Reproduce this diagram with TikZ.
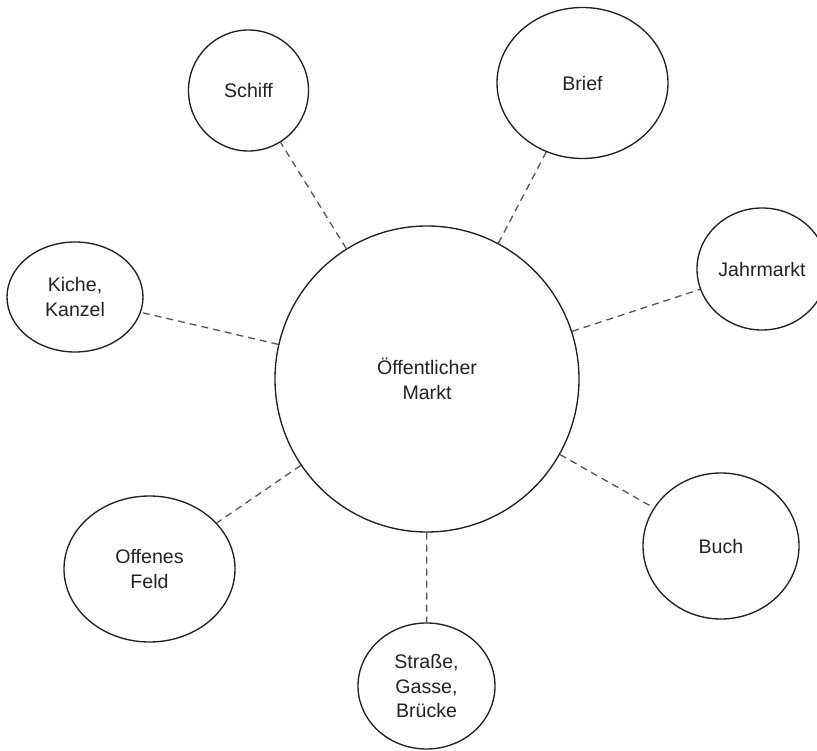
\documentclass[tikz,border=0pt]{standalone}
\usepackage{fontspec}
\setmainfont{Liberation Sans}
\usetikzlibrary{shapes.geometric}
\definecolor{edgegray}{HTML}{222222}
\definecolor{dashgray}{HTML}{555555}
\definecolor{textgray}{HTML}{222222}
\tikzset{
  bubble/.style={ellipse, draw=edgegray, line width=1.35pt, fill=white, inner sep=0pt,
    align=center, text=textgray, font=\fontsize{19.6}{24.5}\selectfont},
  link/.style={draw=dashgray, line width=1.3pt, dash pattern=on 7pt off 5pt}
}
\begin{document}
\begin{tikzpicture}[x=1pt,y=-1pt]
\useasboundingbox (0,0) rectangle (817,751);
\node[bubble, minimum width=304pt, minimum height=306pt] (markt) at (427,379) {Öffentlicher\\Markt};
\node[bubble, minimum width=120pt, minimum height=121pt] (schiff) at (248.5,90.5) {Schiff};
\node[bubble, minimum width=171pt, minimum height=151pt] (brief) at (582.5,83) {Brief};
\node[bubble, minimum width=130pt, minimum height=122pt] (jahr) at (762,269) {Jahrmarkt};
\node[bubble, minimum width=136pt, minimum height=110pt] (kiche) at (75,297) {Kiche,\\Kanzel};
\node[bubble, minimum width=171pt, minimum height=146pt] (feld) at (149.5,569) {Offenes\\Feld};
\node[bubble, minimum width=156pt, minimum height=146pt] (buch) at (721,546) {Buch};
\node[bubble, minimum width=137pt, minimum height=126pt] (strasse) at (426.5,686) {Straße,\\Gasse,\\Brücke};
\foreach \n in {schiff,brief,jahr,kiche,feld,buch,strasse}
  \draw[link] (markt) -- (\n);
\end{tikzpicture}
\end{document}
